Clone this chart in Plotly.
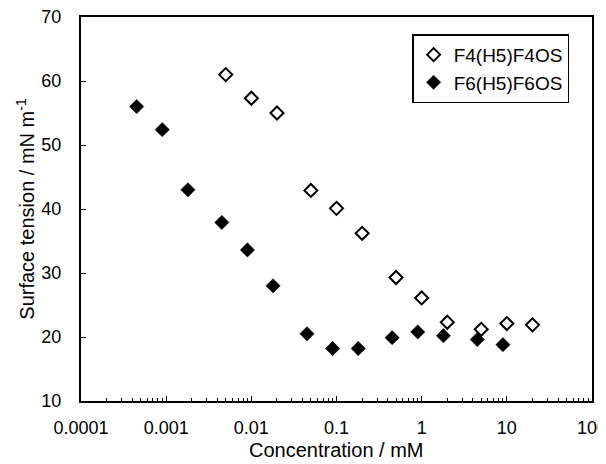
import plotly.graph_objects as go

# Data
conc_f4 = [0.005, 0.01, 0.02, 0.05, 0.1, 0.2, 0.5, 1, 2, 5, 10, 20]
st_f4 = [61.0, 57.3, 55.0, 42.9, 40.1, 36.2, 29.3, 26.1, 22.3, 21.2, 22.1, 21.9]

conc_f6 = [0.00045, 0.0009, 0.0018, 0.0045, 0.009, 0.018, 0.045, 0.09, 0.18, 0.45, 0.9, 1.8, 4.5, 9]
st_f6 = [56.0, 52.4, 43.0, 37.9, 33.6, 28.0, 20.5, 18.2, 18.2, 19.9, 20.8, 20.2, 19.6, 18.8]

x_tickvals = [0.0001, 0.001, 0.01, 0.1, 1, 10, 100]
x_ticktext = ["0.0001", "0.001", "0.01", "0.1", "1", "10", "100"]
y_tickvals = [10, 20, 30, 40, 50, 60, 70]

FONT = "Liberation Sans, Arial, sans-serif"

fig = go.Figure()
fig.add_trace(go.Scatter(
    x=conc_f4, y=st_f4, mode="markers", name="F4(H5)F4OS",
    marker=dict(symbol="diamond-open", size=10, color="black",
                line=dict(width=2, color="black")),
))
fig.add_trace(go.Scatter(
    x=conc_f6, y=st_f6, mode="markers", name="F6(H5)F6OS",
    marker=dict(symbol="diamond", size=11, color="black",
                line=dict(width=0.5, color="black")),
))

# the page body adds an 8px offset, so the figure is 8px smaller each way
fig.update_layout(
    width=598, height=456,
    margin=dict(l=73, r=14, t=8.5, b=63, autoexpand=False),
    paper_bgcolor="white", plot_bgcolor="white",
    font=dict(family=FONT, size=18, color="black"),
    showlegend=True,
    legend=dict(
        x=0.648, y=0.955, xanchor="left", yanchor="top",
        bordercolor="black", borderwidth=1.5, bgcolor="white",
        font=dict(family=FONT, size=19, color="black"),
    ),
    annotations=[dict(
        text="Concentration / mM", xref="paper", yref="paper",
        x=0.5, y=-0.128, xanchor="center", yanchor="middle", showarrow=False,
        font=dict(family=FONT, size=20, color="black"),
    )],
)
fig.update_xaxes(
    type="log", range=[-4, 2], automargin=False,
    tickvals=x_tickvals, ticktext=x_ticktext,
    ticks="inside", ticklen=5, tickwidth=1, tickcolor="black",
    minor=dict(ticks="inside", ticklen=3, tickwidth=1, tickcolor="black",
               dtick="D1", showgrid=False),
    showgrid=False, zeroline=False,
    showline=True, linecolor="black", linewidth=2, mirror=True,
    tickfont=dict(family=FONT, size=18, color="black"),
    ticklabelstandoff=9, ticklabeloverflow="allow",
)
fig.update_yaxes(
    range=[10, 70], tickvals=y_tickvals, automargin=False,
    ticks="inside", ticklen=5, tickwidth=1, tickcolor="black",
    showgrid=False, zeroline=False,
    showline=True, linecolor="black", linewidth=2, mirror=True,
    tickfont=dict(family=FONT, size=18, color="black"),
    ticklabelstandoff=14, ticklabeloverflow="allow",
    title=dict(text="Surface tension / mN m<sup>-1</sup>",
               font=dict(family=FONT, size=20, color="black"), standoff=1),
)

fig.write_html("out.html")
